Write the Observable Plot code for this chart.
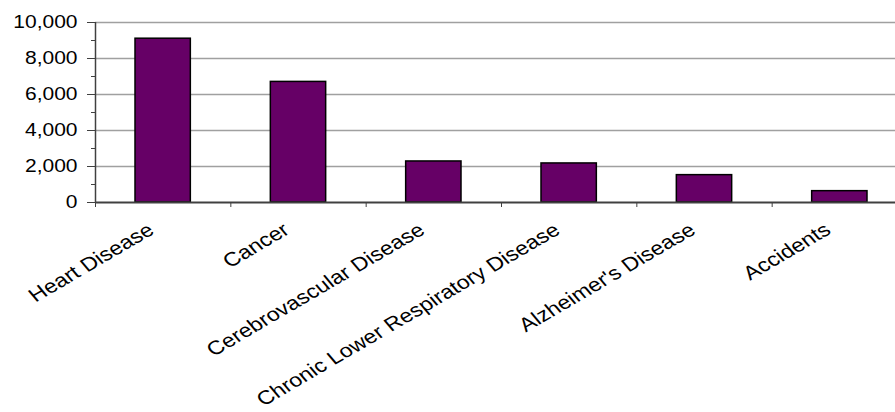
<!DOCTYPE html>
<html>
<head>
<meta charset="utf-8">
<script src="https://cdn.jsdelivr.net/npm/d3@7"></script>
<script src="https://cdn.jsdelivr.net/npm/@observablehq/plot@0.6"></script>
<style>
  html, body { margin: 0; padding: 0; background: #fff; overflow: hidden; }
  #chart svg { display: block; }
</style>
</head>
<body>
<div id="chart"></div>
<script>
// Leading causes of death
const categories = [
  "Heart Disease",
  "Cancer",
  "Cerebrovascular Disease",
  "Chronic Lower Respiratory Disease",
  "Alzheimer's Disease",
  "Accidents"
];
const deaths = [9100, 6700, 2280, 2170, 1520, 630];
const yTicks = [0, 2000, 4000, 6000, 8000, 10000];
const yMinorTicks = [1000, 3000, 5000, 7000, 9000];

const rows = categories.map((name, i) => ({name, i, value: deaths[i]}));
const slots = d3.range(categories.length + 1); // category boundaries

const axisColor = "#404040";
const formatValue = d3.format(",");

const chart = Plot.plot({
  width: 895,
  height: 412,
  marginLeft: 95,
  marginRight: -12,
  marginTop: 22,
  marginBottom: 210,
  style: {
    fontFamily: "'Liberation Sans', Arial, sans-serif",
    fontSize: "17.5px",
    color: "#000",
    background: "#fff"
  },
  x: {type: "linear", domain: [0, categories.length], axis: null},
  y: {domain: [0, 10000], axis: null},
  marks: [
    // horizontal gridlines
    Plot.ruleY(yTicks.slice(1), {stroke: "#a0a0a0", strokeWidth: 1.3}),
    // bars
    Plot.rectY(rows, {
      x1: "i",
      x2: d => d.i + 1,
      y1: 0,
      y2: "value",
      insetLeft: 40,
      insetRight: 40,
      fill: "#660066",
      stroke: "#000",
      strokeWidth: 1.5
    }),
    // axis lines
    Plot.ruleX([0], {y1: 0, y2: 10000, stroke: axisColor, strokeWidth: 1.5}),
    Plot.ruleY([0], {stroke: axisColor, strokeWidth: 2}),
    // tick marks between categories
    Plot.axisX({ticks: slots, tickSize: 5, tickFormat: () => "", stroke: axisColor, label: null}),
    // minor and major y ticks
    Plot.axisY({ticks: yMinorTicks, tickSize: 4, tickFormat: () => "", stroke: axisColor, label: null}),
    Plot.axisY({
      ticks: yTicks,
      tickSize: 8,
      tickPadding: 10,
      tickFormat: formatValue,
      fontSize: 17.5,
      stroke: axisColor,
      label: null
    }),
    // rotated category labels
    Plot.text(rows, {
      x: d => d.i + 0.5,
      y: 0,
      text: "name",
      rotate: -35,
      textAnchor: "end",
      lineAnchor: "top",
      dx: -17,
      dy: 19,
      fontSize: 19.3,
      fill: "#000"
    })
  ]
});

document.getElementById("chart").appendChild(chart);

// widen the lettering horizontally, keeping each label's anchor fixed
function widen(el) {
  let t = el.getAttribute("transform");
  if (!t) {
    const x = +el.getAttribute("x") || 0;
    const y = +el.getAttribute("y") || 0;
    el.removeAttribute("x");
    el.removeAttribute("y");
    t = `translate(${x},${y})`;
  }
  if (t.includes("rotate")) t = t.replace("rotate", "scale(1.2,1) rotate");
  else t = t + " scale(1.2,1)";
  el.setAttribute("transform", t);
}
const valueLabels = new Set(yTicks.map(formatValue));
const categoryLabels = new Set(categories);
chart.querySelectorAll("text").forEach(el => {
  const s = el.textContent.trim();
  if (valueLabels.has(s) || categoryLabels.has(s)) widen(el);
});
</script>
</body>
</html>
